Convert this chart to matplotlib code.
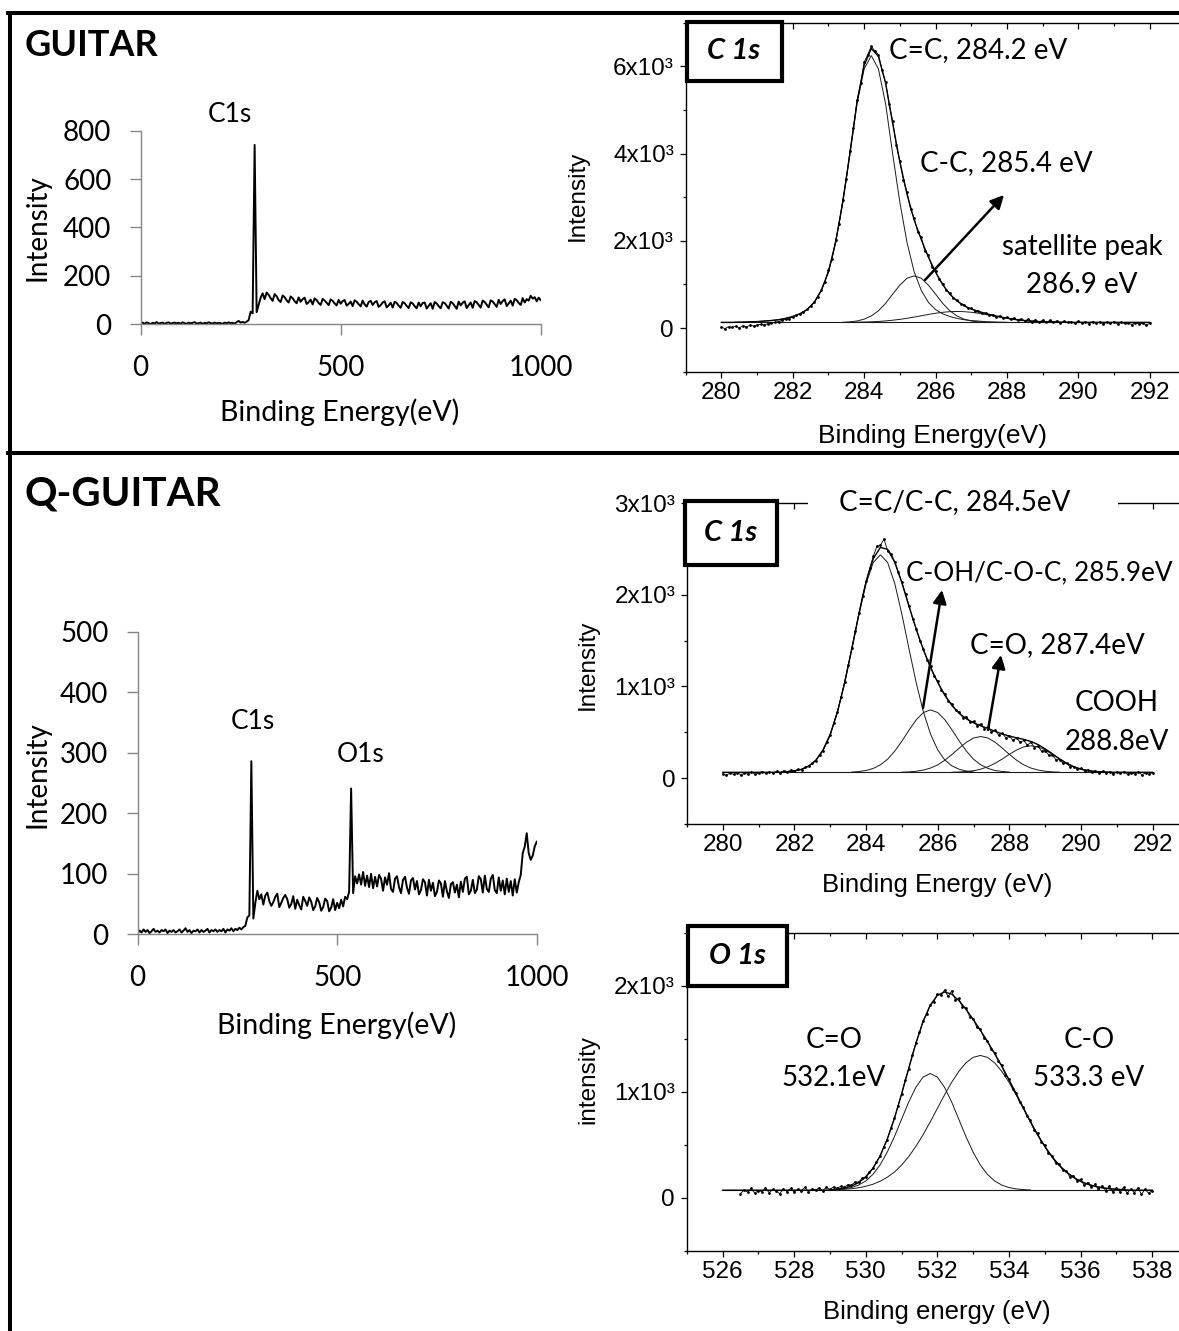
import numpy as np
import matplotlib
matplotlib.use("Agg")
import matplotlib.pyplot as plt
from matplotlib.patches import Rectangle, FancyArrowPatch
from matplotlib.lines import Line2D
from matplotlib.ticker import MultipleLocator, FixedLocator

# ---------------- survey spectra (one point every 5 eV, from 0 eV) ----------------
survey_step = 5
guitar_survey = [
    3, 7, 2, 8, 5, 1, 6, 4, 9, 3, 5, 7, 2, 6, 8, 3, 5, 7, 4, 6,
    3, 8, 5, 2, 7, 4, 6, 9, 3, 5, 7, 2, 6, 4, 8, 5, 3, 7, 4, 6,
    5, 2, 7, 4, 8, 5, 6, 3, 9, 14, 7, 10, 6, 11, 17, 52, 45, 741, 50, 80,
    110, 128, 104, 131, 122, 108, 97, 125, 116, 100, 92, 119, 112, 99, 90, 115, 108, 95, 87, 111,
    93, 104, 110, 84, 91, 102, 82, 107, 100, 88, 80, 105, 98, 89, 79, 103, 97, 86, 78, 101,
    85, 96, 100, 77, 84, 94, 75, 99, 93, 83, 74, 98, 82, 73, 92, 97, 80, 91, 96, 72,
    79, 90, 95, 70, 78, 89, 69, 93, 88, 77, 68, 92, 87, 76, 67, 91, 86, 75, 66, 90,
    74, 88, 90, 65, 76, 87, 64, 92, 86, 75, 66, 91, 88, 77, 65, 93, 87, 76, 64, 94,
    78, 89, 95, 67, 79, 90, 68, 96, 91, 80, 69, 98, 92, 81, 70, 99, 94, 83, 72, 101,
    84, 96, 103, 75, 86, 98, 77, 105, 100, 88, 80, 108, 90, 104, 98, 118, 106, 112, 95, 110,
    100]
qguitar_survey = [
    2, 6, 3, 8, 4, 7, 2, 5, 9, 4, 6, 3, 7, 5, 8, 2, 6, 4, 7, 3,
    5, 8, 3, 6, 10, 4, 7, 2, 6, 5, 8, 3, 7, 4, 6, 9, 3, 7, 5, 8,
    4, 7, 5, 9, 3, 8, 6, 10, 5, 9, 7, 11, 8, 12, 14, 28, 31, 286, 26, 52,
    72, 58, 66, 49, 64, 69, 55, 47, 53, 62, 67, 45, 52, 60, 65, 58, 44, 50, 63, 42,
    57, 48, 41, 62, 55, 47, 61, 54, 40, 46, 60, 53, 39, 45, 59, 55, 38, 44, 58, 40,
    52, 43, 57, 46, 62, 58, 70, 241, 68, 96, 84, 99, 82, 103, 80, 97, 78, 100, 76, 95,
    79, 98, 92, 72, 94, 82, 101, 75, 70, 92, 96, 78, 68, 90, 95, 77, 67, 89, 93, 74,
    88, 66, 73, 91, 86, 64, 90, 72, 85, 63, 70, 89, 84, 62, 88, 71, 60, 83, 86, 69,
    82, 61, 87, 70, 92, 95, 66, 72, 90, 68, 74, 96, 91, 69, 97, 75, 70, 92, 98, 73,
    68, 94, 72, 89, 66, 92, 70, 88, 64, 91, 69, 86, 98, 134, 145, 167, 134, 123, 130, 145,
    153]
survey_xticks = [0, 500, 1000]
guitar_yticks = [0, 200, 400, 600, 800]
qguitar_yticks = [0, 100, 200, 300, 400, 500]

# ---------------- high resolution spectra ----------------
raw_step = 0.1    # eV between raw points
comp_step = 0.2   # eV between points of the fitted components

# GUITAR C 1s
g_raw_start = 280.0
g_raw = [
    20, -10, 30, 15, 40, 10, 45, 30, 60, 50,
    70, 85, 75, 100, 110, 130, 150, 175, 200, 215,
    255, 290, 330, 360, 430, 500, 590, 720, 870, 1060,
    1330, 1580, 2010, 2390, 2930, 3420, 4050, 4580, 5220, 5610,
    6090, 6270, 6460, 6350, 6270, 5920, 5640, 5140, 4740, 4190,
    3830, 3390, 3120, 2720, 2530, 2200, 2080, 1770, 1670, 1400,
    1300, 1120, 1010, 870, 800, 680, 640, 560, 530, 460,
    450, 400, 390, 340, 350, 300, 310, 260, 280, 230,
    250, 200, 230, 180, 210, 170, 200, 150, 190, 140,
    180, 130, 175, 140, 165, 120, 160, 130, 150, 110,
    160, 120, 145, 100, 150, 115, 140, 95, 135, 110,
    145, 90, 130, 105, 120, 80, 125, 95, 110, 70,
    105]
g_base = 130
g_cc_dbl = (280.4, [3, 6, 12, 18, 31, 43, 61, 92, 135, 196, 294, 459, 734, 1162, 1835, 2752, 3852, 5014, 5809,
                    6115, 5809, 5014, 3852, 2752, 1835, 1162, 734, 459, 294, 196, 135, 92, 61, 43, 31, 18, 12, 6, 3])
g_cc_sgl = (283.4, [4, 13, 32, 75, 149, 267, 437, 650, 853, 1013, 1066, 1013, 853, 650, 437, 267, 149, 75, 32, 13, 4])
g_sat = (283.6, [3, 5, 9, 14, 22, 34, 50, 70, 94, 122, 152, 182, 210, 232, 246, 251,
                 246, 232, 210, 182, 152, 122, 94, 70, 50, 34, 22, 14, 9, 5, 3])
g_yticks = [0, 2000, 4000, 6000]
g_ylabels = ["0", "2x10³", "4x10³", "6x10³"]
g_yminor = [-1000, 1000, 3000, 5000, 7000]

# Q-GUITAR C 1s
q_raw_start = 280.0
q_raw = [
    45, 30, 55, 40, 60, 35, 50, 45, 65, 40,
    55, 70, 50, 65, 55, 75, 60, 80, 70, 85,
    80, 95, 90, 115, 130, 160, 190, 250, 300, 390,
    470, 600, 720, 880, 1050, 1230, 1420, 1600, 1800, 1990,
    2150, 2290, 2420, 2530, 2540, 2610, 2480, 2450, 2360, 2250,
    2140, 2010, 1880, 1740, 1630, 1500, 1410, 1290, 1220, 1110,
    1060, 960, 920, 840, 810, 740, 720, 660, 670, 610,
    620, 570, 590, 540, 560, 500, 520, 470, 490, 440,
    460, 410, 440, 390, 410, 360, 390, 330, 350, 290,
    300, 250, 250, 200, 200, 160, 160, 120, 125, 95,
    105, 80, 90, 65, 80, 55, 75, 50, 70, 45,
    65, 50, 70, 40, 60, 45, 65, 35, 55, 40,
    60]
q_base = 62
q_main = (281.8, [5, 14, 33, 69, 133, 245, 416, 660, 976, 1344, 1724, 2062, 2292, 2375,
                  2292, 2062, 1724, 1344, 976, 660, 416, 245, 133, 69, 33, 14, 5])
q_coc = (283.6, [3, 9, 20, 43, 82, 143, 232, 341, 462, 574, 653, 682, 653, 574, 462, 341, 232, 143, 82, 43, 20, 9, 3])
q_co = (285.0, [2, 5, 12, 25, 47, 82, 133, 196, 265, 329, 375, 391, 375, 329, 265, 196, 133, 82, 47, 25, 12, 5, 2])
q_cooh = (286.4, [1, 4, 9, 18, 35, 61, 99, 145, 197, 244, 278, 290, 278, 244, 197, 145, 99, 61, 35, 18, 9, 4, 1])
q_yticks = [0, 1000, 2000, 3000]
q_ylabels = ["0", "1x10³", "2x10³", "3x10³"]
q_yminor = [-500, 500, 1500, 2500]

# Q-GUITAR O 1s
o_raw_start = 526.5
o_raw = [
    40, 75, 55, 90, 45, 70, 60, 95, 50, 80,
    65, 40, 85, 60, 90, 55, 80, 70, 100, 60,
    85, 75, 95, 70, 100, 80, 105, 90, 110, 100,
    125, 120, 150, 150, 185, 200, 245, 280, 340, 395,
    480, 550, 660, 750, 870, 980, 1110, 1220, 1350, 1460,
    1560, 1670, 1730, 1820, 1850, 1920, 1910, 1960, 1900, 1950,
    1870, 1880, 1800, 1790, 1710, 1690, 1610, 1590, 1510, 1480,
    1400, 1370, 1290, 1250, 1160, 1120, 1030, 990, 900, 860,
    770, 730, 640, 610, 530, 500, 420, 400, 330, 320,
    260, 255, 200, 210, 160, 175, 120, 145, 100, 130,
    80, 115, 70, 110, 55, 95, 60, 100, 45, 85,
    50, 95, 35, 80, 45, 70]
o_base = 73
o_co_dbl = (529.0, [2, 6, 12, 25, 48, 87, 149, 238, 358, 504, 668, 831, 970, 1066, 1100,
                    1066, 970, 831, 668, 504, 358, 238, 149, 87, 48, 25, 12, 6, 2])
o_co_sgl = (529.2, [5, 9, 14, 23, 37, 56, 84, 122, 171, 236, 316, 413, 522, 643, 771, 898, 1017, 1120, 1201, 1252,
                    1270, 1252, 1201, 1120, 1017, 898, 771, 643, 522, 413, 316, 236, 171, 122, 84, 56, 37, 23, 14, 9, 5])
o_yticks = [0, 1000, 2000]
o_ylabels = ["0", "1x10³", "2x10³"]
o_yminor = [-500, 500, 1500, 2500]

# ---------------- figure ----------------
W, H = 1179, 1331
plt.rcParams['font.family'] = ['Liberation Sans', 'DejaVu Sans']
CAL = ['Lato', 'DejaVu Sans']
GRAY = '#868686'

fig = plt.figure(figsize=(W / 100, H / 100), dpi=100)


def fx(px):
    return px / W


def fy(py):
    return 1 - py / H


def add_ax(rect):
    l, t, r, b = rect
    return fig.add_axes([fx(l), fy(b), (r - l) / W, (b - t) / H])


def place_labels(ax, rect, xlabel, xpos, ylabel, ypos, family, xsize, ysize):
    l, t, r, b = rect
    ax.set_xlabel(xlabel, fontfamily=family, fontsize=xsize, va='center')
    ax.xaxis.set_label_coords((xpos[0] - l) / (r - l), (b - xpos[1]) / (b - t))
    ax.set_ylabel(ylabel, fontfamily=family, fontsize=ysize, va='center', ha='center')
    ax.yaxis.set_label_coords((ypos[0] - l) / (r - l), (b - ypos[1]) / (b - t))


def excel_panel(rect, values, yticks):
    ax = add_ax(rect)
    x = np.arange(len(values)) * survey_step
    ax.plot(x, values, color='black', lw=1.4)
    ax.set_xlim(0, 1000)
    ax.set_ylim(0, yticks[-1])
    ax.set_xticks(survey_xticks)
    ax.set_yticks(yticks)
    for s in ['top', 'right']:
        ax.spines[s].set_visible(False)
    for s in ['left', 'bottom']:
        ax.spines[s].set_color(GRAY)
        ax.spines[s].set_linewidth(1.0)
    ax.tick_params(direction='out', length=8, width=1, color=GRAY, labelsize=20,
                   labelfontfamily='Lato')
    ax.tick_params(axis='x', pad=14)
    ax.tick_params(axis='y', pad=13)
    return ax


def origin_panel(rect, xlim, ylim, raw_start, raw, base, comps, yticks, ylabels, yminor):
    ax = add_ax(rect)
    x0, x1 = xlim[0] + 1, xlim[1] - 1
    grid = np.round(np.arange(x0, x1 + 0.01, comp_step), 1)
    env = np.full(len(grid), float(base))
    for start, vals in comps:
        i = int(round((start - grid[0]) / comp_step))
        env[i:i + len(vals)] += np.array(vals, dtype=float)
        xs = start + comp_step * np.arange(len(vals))
        ax.plot(xs, base + np.array(vals), color='#1a1a1a', lw=0.7)
    ax.plot(grid, np.full(len(grid), base), color='#1a1a1a', lw=0.8)
    xr = raw_start + raw_step * np.arange(len(raw))
    ax.plot(xr, raw, color='black', lw=0.6, marker='o', ms=2.0, mew=0)
    ax.plot(grid, env, color='black', lw=1.0)

    ax.set_xlim(xlim)
    ax.set_ylim(ylim)
    ax.xaxis.set_major_locator(MultipleLocator(2))
    ax.xaxis.set_minor_locator(MultipleLocator(1))
    ax.set_yticks(yticks)
    ax.set_yticklabels(ylabels)
    ax.yaxis.set_minor_locator(FixedLocator(yminor))
    ax.tick_params(which='both', direction='out', width=0.9, labelsize=17.5)
    ax.tick_params(which='major', length=4.5)
    ax.tick_params(which='minor', length=2.5)
    ax.tick_params(axis='x', pad=3)
    ax.tick_params(axis='y', pad=4)
    for s in ax.spines.values():
        s.set_linewidth(1.0)

    # Origin-style mirrored ticks pointing inwards on top and right
    axt = ax.twiny()
    axt.set_xlim(xlim)
    axt.xaxis.set_major_locator(MultipleLocator(2))
    axt.xaxis.set_minor_locator(MultipleLocator(1))
    axt.tick_params(axis='x', which='both', direction='in', labeltop=False, width=0.9)
    axt.tick_params(axis='x', which='major', length=4.5)
    axt.tick_params(axis='x', which='minor', length=2.5)
    axt.set_frame_on(False)
    axr = ax.twinx()
    axr.set_ylim(ylim)
    axr.set_yticks(yticks)
    axr.yaxis.set_minor_locator(FixedLocator(yminor))
    axr.tick_params(axis='y', which='both', direction='in', labelright=False, width=0.9)
    axr.tick_params(axis='y', which='major', length=4.5)
    axr.tick_params(axis='y', which='minor', length=2.5)
    axr.set_frame_on(False)
    return ax


def ftext(px, py, s, **kw):
    kw.setdefault('ha', 'center')
    kw.setdefault('va', 'center')
    kw.setdefault('zorder', 12)
    return fig.text(fx(px), fy(py), s, **kw)


def fbox(l, t, r, b, lw=3.0, edge='black'):
    rect = Rectangle((fx(l), fy(b)), (r - l) / W, (b - t) / H, transform=fig.transFigure,
                     facecolor='white', edgecolor=edge, lw=lw, zorder=10)
    fig.add_artist(rect)


def farrow(x0, y0, x1, y1):
    arr = FancyArrowPatch((fx(x0), fy(y0)), (fx(x1), fy(y1)), transform=fig.transFigure,
                          arrowstyle='-|>', mutation_scale=20, lw=1.8, color='black',
                          shrinkA=0, shrinkB=0, zorder=12)
    fig.add_artist(arr)


def fline(xs, ys, lw=2.9):
    fig.add_artist(Line2D([fx(v) for v in xs], [fy(v) for v in ys], transform=fig.transFigure,
                          color='black', lw=lw, solid_capstyle='projecting', zorder=20))


# ---- GUITAR survey ----
r1 = (140.6, 130.6, 540.7, 324.3)
ax1 = excel_panel(r1, guitar_survey, guitar_yticks)
place_labels(ax1, r1, 'Binding Energy(eV)', (340, 412), 'Intensity', (37, 228), 'Lato', 20.5, 20)

# ---- Q-GUITAR survey ----
r5 = (137.6, 631.7, 536.7, 934.3)
ax5 = excel_panel(r5, qguitar_survey, qguitar_yticks)
place_labels(ax5, r5, 'Binding Energy(eV)', (337, 1025), 'Intensity', (37, 775), 'Lato', 20.5, 20)

# ---- GUITAR C 1s ----
r2 = (685.7, 22.7, 1185.4, 371.7)
ax2 = origin_panel(r2, (279, 293), (-1000, 7000), g_raw_start, g_raw, g_base,
                   [g_cc_dbl, g_cc_sgl, g_sat], g_yticks, g_ylabels, g_yminor)
place_labels(ax2, r2, 'Binding Energy(eV)', (933, 436), 'Intensity', (578, 196),
             'Liberation Sans', 19, 17.5)

# ---- Q-GUITAR C 1s ----
r3 = (687.0, 503.3, 1188.5, 823.8)
ax3 = origin_panel(r3, (279, 293), (-500, 3000), q_raw_start, q_raw, q_base,
                   [q_main, q_coc, q_co, q_cooh], q_yticks, q_ylabels, q_yminor)
place_labels(ax3, r3, 'Binding Energy (eV)', (937, 885), 'Intensity', (588, 665),
             'Liberation Sans', 18.5, 17.5)

# ---- Q-GUITAR O 1s ----
r4 = (686.7, 932.7, 1188.0, 1251.0)
ax4 = origin_panel(r4, (525, 539), (-500, 2500), o_raw_start, o_raw, o_base,
                   [o_co_dbl, o_co_sgl], o_yticks, o_ylabels, o_yminor)
place_labels(ax4, r4, 'Binding energy (eV)', (937, 1312), 'intensity', (588, 1080),
             'Liberation Sans', 18.5, 17.5)

# ---- titles and peak labels ----
ftext(25, 46, 'GUITAR', ha='left', family=CAL, fontsize=26, fontweight='bold')
ftext(25, 494, 'Q-GUITAR', ha='left', family=CAL, fontsize=29, fontweight='bold')
ftext(230, 114, 'C1s', family=CAL, fontsize=19)
ftext(253, 721, 'C1s', family=CAL, fontsize=19)
ftext(361, 755, 'O1s', family=CAL, fontsize=19)

# boxed core-level tags
fbox(686.7, 21.7, 781.7, 80.7)
ftext(734, 51, 'C 1s', family=CAL, fontsize=21, fontweight='bold', style='italic')
fbox(685, 500.7, 777, 565)
ftext(731, 533, 'C 1s', family=CAL, fontsize=21, fontweight='bold', style='italic')
fbox(688, 926, 786.7, 986)
ftext(737, 956, 'O 1s', family=CAL, fontsize=21, fontweight='bold', style='italic')

# GUITAR C 1s annotations
ftext(978.5, 50, 'C=C, 284.2 eV', family=CAL, fontsize=20)
ftext(1006, 163, 'C-C, 285.4 eV', family=CAL, fontsize=20)
ftext(1082, 247, 'satellite peak', family=CAL, fontsize=20)
ftext(1082, 285, '286.9 eV', family=CAL, fontsize=20)
farrow(925, 280, 1004, 195)

# Q-GUITAR C 1s annotations (top label breaks the frame)
fbox(808, 496, 1118, 510, lw=0, edge='white')
ftext(955, 502, 'C=C/C-C, 284.5eV', family=CAL, fontsize=20)
ftext(906, 573, 'C-OH/C-O-C, 285.9eV', ha='left', family=CAL, fontsize=18.8)
ftext(1057, 645, 'C=O, 287.4eV', family=CAL, fontsize=20)
ftext(1117, 703, 'COOH', family=CAL, fontsize=20)
ftext(1117, 742, '288.8eV', family=CAL, fontsize=20)
farrow(923, 708, 942, 590)
farrow(988, 730, 1001, 655)

# Q-GUITAR O 1s annotations
ftext(834, 1040, 'C=O', family=CAL, fontsize=20)
ftext(834, 1078, '532.1eV', family=CAL, fontsize=20)
ftext(1089, 1040, 'C-O', family=CAL, fontsize=20)
ftext(1089, 1078, '533.3 eV', family=CAL, fontsize=20)

# outer frame of the composite figure
fline([8, 1179], [12.5, 12.5])
fline([10.3, 10.3], [12.5, 1331])
fline([8, 1179], [453, 453])

fig.savefig('out.png', dpi=100)
